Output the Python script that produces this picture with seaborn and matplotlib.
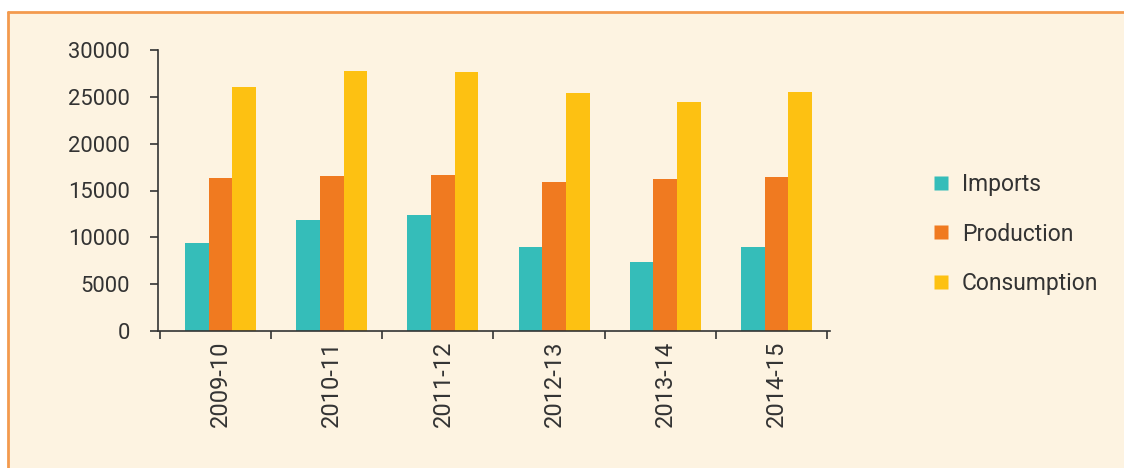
import matplotlib
matplotlib.use("Agg")
import matplotlib.pyplot as plt
from matplotlib.lines import Line2D
from matplotlib.patches import Rectangle
import pandas as pd
import seaborn as sns

# data
years = ["2009-10", "2010-11", "2011-12", "2012-13", "2013-14", "2014-15"]
imports = [9400, 11900, 12400, 9000, 7400, 9000]
production = [16300, 16600, 16700, 15900, 16200, 16400]
consumption = [26100, 27800, 27700, 25400, 24500, 25500]
series = ["Imports", "Production", "Consumption"]
y_ticks = [0, 5000, 10000, 15000, 20000, 25000, 30000]

colors = ["#35BDB9", "#F07A20", "#FDC112"]
bg = "#FDF3E1"
ink = "#333333"

df = pd.DataFrame({
    "year": years,
    "Imports": imports,
    "Production": production,
    "Consumption": consumption,
})
long_df = df.melt(id_vars="year", var_name="series", value_name="value")

sns.set_style("ticks")
plt.rcParams["font.family"] = ["Roboto", "DejaVu Sans"]

fig = plt.figure(figsize=(11.24, 4.68), dpi=100, facecolor="white")

# cream panel with orange top/left border
fig.patches.append(Rectangle((8 / 1124, 0), 1, (468 - 12) / 468,
                             transform=fig.transFigure, facecolor=bg,
                             edgecolor="none", zorder=-5))
fig.add_artist(Line2D([8 / 1124, 1], [456 / 468, 456 / 468],
                      transform=fig.transFigure, color="#F39A4E", lw=2,
                      zorder=-4))
fig.add_artist(Line2D([8 / 1124, 8 / 1124], [0, 456 / 468],
                      transform=fig.transFigure, color="#F39A4E", lw=2,
                      zorder=-4))

ax = fig.add_axes([158 / 1124, 137 / 468, 672 / 1124, 281 / 468])
ax.set_facecolor("none")

sns.barplot(
    data=long_df,
    x="year",
    y="value",
    hue="series",
    hue_order=series,
    palette=colors,
    width=0.64,
    saturation=1,
    linewidth=0,
    edgecolor="none",
    ax=ax,
)

# group separators sit a little left of the midpoints in the original
sep_offset = 0.545

ax.set_ylim(0, 30000)
ax.set_xlim(-0.563, len(years) - 0.518)
ax.set_yticks(y_ticks)
ax.set_yticklabels([str(v) for v in y_ticks], fontsize=15.8, color=ink)
ax.set_xticks(range(len(years)))
ax.set_xticklabels(years, rotation=90, fontsize=17, color=ink)
ax.set_xticks([i - sep_offset for i in range(len(years) + 1)], minor=True)
ax.tick_params(axis="x", which="major", length=0, pad=7)
ax.tick_params(axis="x", which="minor", length=6, width=1.2, color=ink)
ax.tick_params(axis="y", length=6, width=1.2, color=ink, pad=14)
ax.set_xlabel("")
ax.set_ylabel("")

for side in ["top", "right"]:
    ax.spines[side].set_visible(False)
for side in ["left", "bottom"]:
    ax.spines[side].set_color(ink)
    ax.spines[side].set_linewidth(1.2)

ax.get_legend().remove()

handles = [
    Line2D([], [], marker="s", linestyle="none", markersize=10,
           markerfacecolor=c, markeredgecolor="none")
    for c in colors
]
fig.legend(
    handles,
    series,
    loc="center left",
    bbox_to_anchor=(932 / 1124, 234 / 468),
    frameon=False,
    fontsize=16.5,
    labelcolor=ink,
    handlelength=0.8,
    handletextpad=0.5,
    labelspacing=1.15,
    borderpad=0,
    borderaxespad=0,
)

fig.savefig("out.png", dpi=100, facecolor="white")
plt.close()
